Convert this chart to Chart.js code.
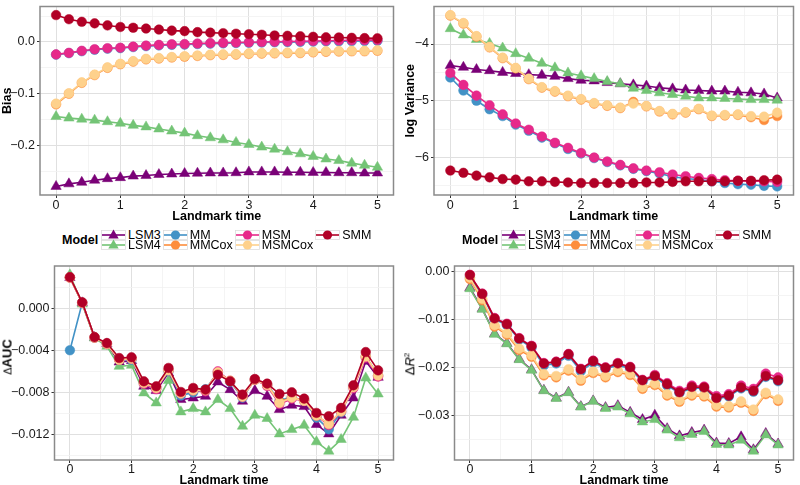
<!DOCTYPE html>
<html>
<head>
<meta charset="utf-8">
<script src="https://cdn.jsdelivr.net/npm/chart.js@4.4.1/dist/chart.umd.min.js"></script>
<style>
  body { margin: 0; background: #fff; width: 800px; height: 485px; overflow: hidden; position: relative;
         font-family: "Liberation Sans", Arial, sans-serif; color: #000; }
  canvas { position: absolute; }
  .legend { position: absolute; top: 230px; display: flex; align-items: center; }
  .legend .ltitle { font-weight: bold; font-size: 12.5px; }
  .legend .lgrid { display: grid; grid-template-rows: 10px 10px; grid-auto-flow: column; column-gap: 2px; margin-left: 3px; }
  .legend .lkey { display: flex; align-items: center; height: 10px; }
  .legend .lkey svg { overflow: visible; display: block; }
  .legend .lkey span { margin-left: 2px; font-size: 12.5px; line-height: 10px; }
  .ytitle { position: absolute; transform: translate(-50%, -50%) rotate(-90deg); white-space: nowrap; font-size: 13px; }
</style>
</head>
<body>
<canvas id="bias" width="400" height="225" style="left:0;top:0"></canvas>
<canvas id="logvar" width="400" height="225" style="left:400px;top:0"></canvas>
<canvas id="auc" width="400" height="235" style="left:0;top:250px"></canvas>
<canvas id="r2" width="400" height="235" style="left:400px;top:250px"></canvas>
<div class="legend" id="legend1" style="left:62px"></div>
<div class="legend" id="legend2" style="left:462px"></div>
<div class="ytitle" style="left:7px;top:357px"><span style="font-size:11px">&Delta;</span><b>AUC</b></div>
<div class="ytitle" style="left:410px;top:364px">&Delta;<i>R</i><sup style="font-size:8px">2</sup></div>

<script>
// Temps de landmark (axe x commun aux 4 panneaux)
const landmarkTimes = [0, 0.2, 0.4, 0.6, 0.8, 1, 1.2, 1.4, 1.6, 1.8, 2, 2.2, 2.4, 2.6, 2.8, 3, 3.2, 3.4, 3.6, 3.8, 4, 4.2, 4.4, 4.6, 4.8, 5];
const xTicks = [0, 1, 2, 3, 4, 5];

const models = ["LSM3", "LSM4", "MM", "MMCox", "MSM", "MSMCox", "SMM"];
const modelColors = ["#7A0177", "#74C476", "#4292C6", "#FD8D3C", "#E7298A", "#FED18C", "#B10026"];
const modelShapes = ["triangle", "triangle", "circle", "circle", "circle", "circle", "circle"];

// Panneau 1 : Bias
const biasTicks = [-0.2, -0.1, 0];
const bias_LSM3 = [-0.279, -0.274, -0.271, -0.267, -0.264, -0.262, -0.259, -0.258, -0.256, -0.255, -0.254, -0.2535, -0.253, -0.253, -0.2525, -0.251, -0.251, -0.251, -0.2515, -0.2515, -0.252, -0.252, -0.2525, -0.2525, -0.253, -0.253];
const bias_LSM4 = [-0.144, -0.147, -0.149, -0.151, -0.154, -0.157, -0.161, -0.164, -0.168, -0.172, -0.176, -0.181, -0.185, -0.189, -0.194, -0.198, -0.203, -0.207, -0.212, -0.216, -0.221, -0.226, -0.229, -0.234, -0.238, -0.242];
const bias_MM = [-0.0245, -0.0215, -0.0178, -0.015, -0.013, -0.0118, -0.0098, -0.008, -0.0066, -0.0055, -0.005, -0.004, -0.0033, -0.0026, -0.002, -0.0015, -0.001, -0.0006, -0.0002, 0.0002, 0.0006, 0.001, 0.0013, 0.0016, 0.0019, 0.0022];
const bias_MMCox = [-0.1205, -0.1, -0.079, -0.064, -0.05, -0.043, -0.038, -0.0335, -0.032, -0.03, -0.0285, -0.027, -0.0255, -0.025, -0.0245, -0.023, -0.0225, -0.022, -0.0215, -0.0215, -0.02, -0.019, -0.0185, -0.018, -0.018, -0.017];
const bias_MSM = [-0.024, -0.021, -0.017, -0.014, -0.012, -0.011, -0.009, -0.007, -0.0056, -0.0044, -0.004, -0.003, -0.0022, -0.0015, -0.001, -0.0005, 0, 0.0005, 0.001, 0.0015, 0.002, 0.0025, 0.003, 0.0033, 0.0036, 0.004];
const bias_MSMCox = [-0.119, -0.099, -0.078, -0.063, -0.049, -0.042, -0.037, -0.0325, -0.031, -0.029, -0.0275, -0.026, -0.0245, -0.024, -0.0235, -0.022, -0.0215, -0.021, -0.0205, -0.0205, -0.019, -0.018, -0.0175, -0.017, -0.017, -0.016];
const bias_SMM = [0.052, 0.044, 0.039, 0.036, 0.032, 0.029, 0.0275, 0.026, 0.024, 0.022, 0.021, 0.019, 0.018, 0.017, 0.016, 0.015, 0.014, 0.0125, 0.012, 0.011, 0.01, 0.009, 0.0088, 0.008, 0.0075, 0.007];

// Panneau 2 : log Variance
const logVarTicks = [-6, -5, -4];
const logVar_LSM3 = [-4.38, -4.41, -4.45, -4.47, -4.5, -4.52, -4.54, -4.55, -4.57, -4.61, -4.64, -4.65, -4.68, -4.7, -4.72, -4.74, -4.77, -4.79, -4.81, -4.82, -4.83, -4.83, -4.85, -4.86, -4.88, -4.95];
const logVar_LSM4 = [-3.73, -3.84, -3.92, -3.99, -4.07, -4.17, -4.25, -4.34, -4.42, -4.51, -4.56, -4.61, -4.66, -4.7, -4.78, -4.82, -4.86, -4.89, -4.92, -4.95, -4.95, -4.96, -4.97, -4.98, -4.98, -4.99];
const logVar_MM = [-4.59, -4.82, -5.0, -5.15, -5.27, -5.42, -5.53, -5.65, -5.75, -5.85, -5.93, -6.01, -6.08, -6.14, -6.2, -6.24, -6.28, -6.34, -6.37, -6.39, -6.42, -6.45, -6.47, -6.48, -6.5, -6.51];
const logVar_MMCox = [-3.5, -3.64, -3.87, -4.06, -4.25, -4.43, -4.62, -4.77, -4.84, -4.92, -4.98, -5.05, -5.09, -5.13, -5.02, -5.1, -5.19, -5.24, -5.21, -5.15, -5.27, -5.26, -5.25, -5.29, -5.34, -5.27];
const logVar_MSM = [-4.51, -4.72, -4.91, -5.08, -5.24, -5.4, -5.51, -5.63, -5.74, -5.83, -5.92, -6.0, -6.07, -6.13, -6.19, -6.23, -6.26, -6.3, -6.33, -6.36, -6.38, -6.4, -6.41, -6.42, -6.42, -6.43];
const logVar_MSMCox = [-3.49, -3.63, -3.86, -4.05, -4.24, -4.42, -4.61, -4.76, -4.83, -4.91, -4.97, -5.04, -5.08, -5.12, -5.05, -5.09, -5.18, -5.23, -5.2, -5.14, -5.26, -5.25, -5.24, -5.27, -5.28, -5.21];
const logVar_SMM = [-6.23, -6.27, -6.32, -6.35, -6.38, -6.39, -6.42, -6.42, -6.43, -6.44, -6.45, -6.45, -6.45, -6.45, -6.45, -6.44, -6.44, -6.43, -6.42, -6.42, -6.42, -6.42, -6.41, -6.41, -6.4, -6.39];

// Panneau 3 : delta AUC
const aucTicks = [-0.012, -0.008, -0.004, 0];
const auc_LSM3 = [0.0029, 0.0005, -0.0028, -0.0034, -0.00512, -0.00499, -0.00742, -0.00783, -0.00616, -0.00868, -0.00853, -0.00837, -0.00701, -0.00774, -0.00884, -0.00783, -0.00837, -0.00963, -0.00922, -0.00935, -0.01105, -0.01194, -0.01017, -0.00853, -0.00505, -0.00657];
const auc_LSM4 = [0.00316, 0.00038, -0.00284, -0.00363, -0.00553, -0.00543, -0.00805, -0.009, -0.00688, -0.00985, -0.00954, -0.00985, -0.00868, -0.00954, -0.01121, -0.01017, -0.01048, -0.01194, -0.01153, -0.01112, -0.01269, -0.01358, -0.01247, -0.01036, -0.00663, -0.00815];
const auc_MM = [-0.004, 0.0005, -0.0028, -0.0034, -0.0049, -0.0049, -0.0071, -0.0076, -0.006, -0.0083, -0.008, -0.0077, -0.0061, -0.007, -0.0085, -0.0068, -0.0073, -0.0088, -0.0084, -0.0088, -0.0104, -0.0115, -0.0099, -0.0074, -0.0046, -0.0064];
const auc_MMCox = [0.0029, 0.0005, -0.0028, -0.0034, -0.0049, -0.0048, -0.0071, -0.0076, -0.0059, -0.0081, -0.0078, -0.0078, -0.0061, -0.0069, -0.0084, -0.0068, -0.0073, -0.0089, -0.0085, -0.0088, -0.0102, -0.011, -0.0098, -0.0075, -0.0046, -0.0064];
const auc_MSM = [0.0029, 0.0005, -0.0028, -0.0034, -0.0049, -0.0048, -0.0072, -0.0077, -0.0059, -0.0081, -0.0078, -0.0079, -0.006, -0.0069, -0.0084, -0.0068, -0.0074, -0.0091, -0.0086, -0.0088, -0.0102, -0.0111, -0.0098, -0.0076, -0.0047, -0.0065];
const auc_MSMCox = [0.0029, 0.0005, -0.0028, -0.0034, -0.0049, -0.0048, -0.0071, -0.0076, -0.0059, -0.0081, -0.0078, -0.0078, -0.0061, -0.0069, -0.0084, -0.0068, -0.0073, -0.009, -0.0085, -0.0088, -0.0102, -0.011, -0.0098, -0.0075, -0.0046, -0.0064];
const auc_SMM = [0.00294, 0.00054, -0.00275, -0.00332, -0.00474, -0.00467, -0.00695, -0.00742, -0.00568, -0.00796, -0.00758, -0.00774, -0.00632, -0.00695, -0.00821, -0.00673, -0.00717, -0.00815, -0.00799, -0.00859, -0.00995, -0.01026, -0.00947, -0.00733, -0.00417, -0.00591];

// Panneau 4 : delta R2
const r2Ticks = [-0.03, -0.02, -0.01, 0];
const r2_LSM3 = [-0.0033, -0.0077, -0.0129, -0.0149, -0.0182, -0.0204, -0.0247, -0.0263, -0.0251, -0.0281, -0.0269, -0.0283, -0.0279, -0.0293, -0.0308, -0.0299, -0.0327, -0.0342, -0.0335, -0.033, -0.0357, -0.0358, -0.0344, -0.0371, -0.0337, -0.0359];
const r2_LSM4 = [-0.0035, -0.0078, -0.013, -0.015, -0.0183, -0.0205, -0.0248, -0.0264, -0.0252, -0.0282, -0.027, -0.0285, -0.0282, -0.0296, -0.0313, -0.0308, -0.033, -0.0346, -0.0339, -0.0333, -0.036, -0.0361, -0.0351, -0.0374, -0.034, -0.0361];
const r2_MM = [-0.0012, -0.0048, -0.0099, -0.0111, -0.0141, -0.0158, -0.0195, -0.0191, -0.0175, -0.0207, -0.0189, -0.0203, -0.0194, -0.0202, -0.0229, -0.022, -0.0237, -0.0253, -0.0242, -0.0243, -0.0265, -0.026, -0.0243, -0.025, -0.0219, -0.0228];
const r2_MMCox = [-0.0015, -0.0059, -0.0114, -0.0131, -0.0163, -0.0177, -0.0216, -0.022, -0.0206, -0.0227, -0.0211, -0.022, -0.0209, -0.0215, -0.0244, -0.0236, -0.0258, -0.0271, -0.0258, -0.026, -0.0281, -0.0283, -0.0273, -0.029, -0.0255, -0.0269];
const r2_MSM = [-0.0006, -0.0045, -0.0096, -0.0108, -0.0138, -0.0154, -0.019, -0.0187, -0.0171, -0.0202, -0.0185, -0.0199, -0.019, -0.0198, -0.0225, -0.0215, -0.0232, -0.0248, -0.0237, -0.0239, -0.0259, -0.0255, -0.0237, -0.0244, -0.0212, -0.022];
const r2_MSMCox = [-0.0012, -0.0056, -0.0111, -0.0128, -0.016, -0.0174, -0.0213, -0.0217, -0.0203, -0.0224, -0.0208, -0.0217, -0.0206, -0.0212, -0.0241, -0.0233, -0.0255, -0.0268, -0.0255, -0.0257, -0.0278, -0.028, -0.027, -0.0287, -0.0252, -0.0266];
const r2_SMM = [-0.00064, -0.0046, -0.0097, -0.0109, -0.0139, -0.0155, -0.0191, -0.0188, -0.0172, -0.0203, -0.0186, -0.02, -0.0191, -0.0199, -0.0226, -0.0217, -0.0234, -0.0251, -0.024, -0.0241, -0.0263, -0.0258, -0.0241, -0.0248, -0.0217, -0.0226];

Chart.defaults.font.family = '"Liberation Sans", Arial, sans-serif';

const MAJOR_GRID = "#e0e0e0";
const MINOR_GRID = "#f1f1f1";

// Cadre gris autour de la zone de tracé (style ggplot)
const panelBorder = {
	id: "panelBorder",
	afterDatasetsDraw(chart) {
		const { ctx, chartArea: a } = chart;
		ctx.save();
		ctx.strokeStyle = "#8a8a8a";
		ctx.lineWidth = 1.5;
		ctx.strokeRect(a.left, a.top, a.right - a.left, a.bottom - a.top);
		ctx.restore();
	}
};

// Graduations majeures + mineures (à mi-chemin) comme ggplot
function tickList(majors, min, max) {
	const step = majors[1] - majors[0];
	const out = majors.map(v => ({ value: v, isMajor: true }));
	for (let k = -1; k < majors.length; k++) {
		const m = k < 0 ? majors[0] - step / 2 : majors[k] + step / 2;
		if (m >= min && m <= max) out.push({ value: m, isMajor: false });
	}
	return out.sort((a, b) => a.value - b.value);
}

function fmt(v, digits) {
	const s = Math.abs(v) < 1e-12 ? (0).toFixed(digits) : v.toFixed(digits);
	return s.replace("-", "\u2212");
}

function expandRange(series) {
	const all = series.flat();
	const lo = Math.min(...all), hi = Math.max(...all);
	const pad = (hi - lo) * 0.05;
	return [lo - pad, hi + pad];
}

function gridOpts() {
	return {
		color: c => (c.tick && c.tick.isMajor ? MAJOR_GRID : MINOR_GRID),
		lineWidth: c => (c.tick && c.tick.isMajor ? 1 : 0.8),
		tickColor: c => (c.tick && c.tick.isMajor ? "#333" : "rgba(0,0,0,0)"),
		tickLength: 3,
		drawTicks: true
	};
}

function makePanel(id, series, p) {
	const [yMin, yMax] = expandRange(series);
	const datasets = series.map((values, i) => ({
		label: models[i],
		data: values.map((v, j) => ({ x: landmarkTimes[j], y: v })),
		borderColor: modelColors[i],
		backgroundColor: modelColors[i],
		pointBackgroundColor: modelColors[i],
		pointBorderColor: modelColors[i],
		pointBorderWidth: 0.5,
		pointStyle: modelShapes[i],
		pointRadius: modelShapes[i] === "triangle" ? 6 : 4.8,
		borderWidth: 1.6,
		tension: 0,
		order: models.length - i
	}));

	return new Chart(document.getElementById(id), {
		type: "line",
		data: { datasets: datasets },
		plugins: [panelBorder],
		options: {
			responsive: false,
			animation: false,
			layout: { padding: p.padding },
			plugins: { legend: { display: false }, tooltip: { enabled: false } },
			scales: {
				x: {
					type: "linear",
					min: -0.25,
					max: 5.25,
					afterBuildTicks: s => { s.ticks = tickList(xTicks, -0.25, 5.25); },
					afterFit: s => { s.height = p.xHeight; s.paddingLeft = 0; s.paddingRight = 0; },
					ticks: {
						callback: v => (Number.isInteger(v) ? String(v) : ""),
						autoSkip: false, maxRotation: 0, padding: p.xTickPad,
						color: "#1a1a1a", font: { size: 12.5 }
					},
					grid: gridOpts(),
					border: { display: false },
					title: {
						display: true, text: "Landmark time", color: "#000",
						font: { size: 12.5, weight: "bold", lineHeight: 1 },
						padding: { top: 0, bottom: p.xTitlePad }
					}
				},
				y: {
					type: "linear",
					min: yMin,
					max: yMax,
					afterBuildTicks: s => { s.ticks = tickList(p.yTicks, yMin, yMax); },
					afterFit: s => { s.width = p.yWidth; s.paddingTop = 0; s.paddingBottom = 0; },
					ticks: {
						callback: function (v, i, ticks) { return ticks[i].isMajor ? fmt(v, p.digits) : ""; },
						autoSkip: false, padding: 2,
						color: "#1a1a1a", font: { size: 12.5 }
					},
					grid: gridOpts(),
					border: { display: false },
					title: {
						display: !!p.yTitle, text: p.yTitle || "", color: "#000",
						font: { size: 12.5, weight: "bold", lineHeight: 1 },
						padding: { top: p.yTitlePad || 0, bottom: 0 }
					}
				}
			}
		}
	});
}

makePanel("bias",
	[bias_LSM3, bias_LSM4, bias_MM, bias_MMCox, bias_MSM, bias_MSMCox, bias_SMM],
	{ yTicks: biasTicks, digits: 1, yTitle: "Bias", yTitlePad: 1.5, yWidth: 40, xHeight: 30, xTitlePad: 2.5, xTickPad: 0,
	  padding: { top: 1, right: 5, left: 0, bottom: 0 } });

makePanel("logvar",
	[logVar_LSM3, logVar_LSM4, logVar_MM, logVar_MMCox, logVar_MSM, logVar_MSMCox, logVar_SMM],
	{ yTicks: logVarTicks, digits: 0, yTitle: "log Variance", yTitlePad: 4, yWidth: 34, xHeight: 30, xTitlePad: 2.5, xTickPad: 0,
	  padding: { top: 1, right: 1, left: 0, bottom: 0 } });

makePanel("auc",
	[auc_LSM3, auc_LSM4, auc_MM, auc_MMCox, auc_MSM, auc_MSMCox, auc_SMM],
	{ yTicks: aucTicks, digits: 3, yTitle: "", yWidth: 54.5, xHeight: 25, xTitlePad: -1.5, xTickPad: -1,
	  padding: { top: 16, right: 4.5, left: 0, bottom: 0 } });

makePanel("r2",
	[r2_LSM3, r2_LSM4, r2_MM, r2_MMCox, r2_MSM, r2_MSMCox, r2_SMM],
	{ yTicks: r2Ticks, digits: 2, yTitle: "", yWidth: 54.5, xHeight: 25, xTitlePad: -1.5, xTickPad: -1,
	  padding: { top: 16, right: 1, left: 0, bottom: 0 } });

// Légende HTML commune aux deux panneaux du haut
function buildLegend(el) {
	let html = '<span class="ltitle">Model</span><div class="lgrid">';
	models.forEach((name, i) => {
		const c = modelColors[i];
		const mark = modelShapes[i] === "triangle"
			? '<polygon points="12.5,-0.5 17.7,8.5 7.3,8.5" fill="' + c + '"/>'
			: '<circle cx="12.5" cy="5" r="4.6" fill="' + c + '"/>';
		html += '<div class="lkey"><svg width="25" height="10">' +
			'<rect x="0.5" y="0.5" width="24" height="9" fill="#fff" stroke="#dcdcdc" stroke-width="0.8"/>' +
			'<line x1="1" y1="5" x2="24" y2="5" stroke="' + c + '" stroke-width="1.6"/>' + mark +
			'</svg><span>' + name + '</span></div>';
	});
	html += "</div>";
	el.innerHTML = html;
}
buildLegend(document.getElementById("legend1"));
buildLegend(document.getElementById("legend2"));
</script>
</body>
</html>
